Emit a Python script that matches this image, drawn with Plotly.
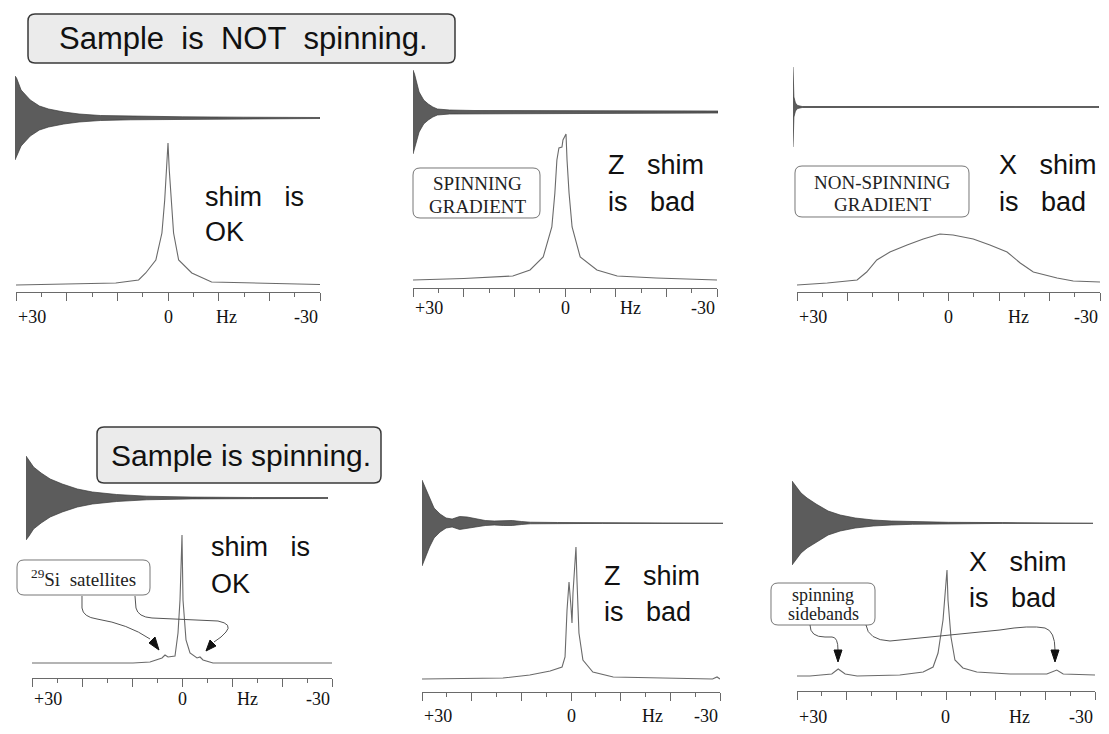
import plotly.graph_objects as go

W, H = 1109, 734

# ---------------- data ----------------
# FID envelopes: time in % of acquisition, envelope amplitude (arb. units)
FID_T_1 = [0, 0.5, 2, 5, 8, 11, 16, 21, 28, 38, 55, 75, 100]
FID_ENV_1 = [42, 40, 28, 18, 12, 9, 6, 4, 2.5, 1.8, 1.2, 0.8, 0.5]
FID_T_2 = [0, 0.5, 2, 3.5, 5, 6.5, 8, 12, 20, 40, 100]
FID_ENV_2 = [42, 38, 20, 12, 8, 5, 3, 2, 1.5, 1.2, 1.0]
FID_T_3 = [0, 0.3, 0.8, 1.5, 3, 100]
FID_ENV_3 = [40, 10, 4, 1.5, 0.5, 0.4]
FID_T_4 = [0, 1, 2.5, 5, 8, 12, 17, 22, 30, 40, 55, 75, 100]
FID_ENV_4 = [42, 38, 31, 25, 19, 14, 9, 6, 3.5, 1.8, 0.9, 0.5, 0.4]
FID_T_5 = [0, 1, 2.5, 4, 6, 8, 10, 12.5, 15, 18, 21, 24, 27, 30, 33, 36, 45, 60, 100]
FID_ENV_5 = [43, 36, 24, 15, 9, 5, 4, 6.5, 6, 4, 2.5, 2, 2.5, 2.5, 1.5, 0.8, 0.5, 0.4, 0.3]
FID_T_6 = [0, 1, 3, 5, 8, 12, 16, 21, 27, 33, 40, 52, 70, 100]
FID_ENV_6 = [42, 38, 30, 25, 19, 12, 8, 5, 3, 2, 1.3, 0.7, 0.4, 0.3]

# Spectra: frequency (Hz) and intensity (arb. units)
SPEC_HZ_1 = [30, 23.5, 10.3, 5.8, 4.4, 2.4, 1.2, 0.65, 0.25, 0, -0.25, -0.65, -1.1, -2.1, -4.7, -8.6, -16, -24, -30]
SPEC_I_1 = [0, 0.5, 2, 5, 12, 25, 52, 85, 115, 142, 115, 85, 52, 25, 12, 3, 2, 1, 0.5]
SPEC_HZ_2 = [30, 20, 10.3, 6.9, 4.3, 2.6, 2.0, 1.6, 1.2, 0.6, 0.4, -0.2, -0.4, -0.8, -1.4, -3.0, -6.3, -10.3, -18, -30]
SPEC_I_2 = [0, 1.5, 4, 10, 23, 53, 87, 120, 132, 133, 140, 146, 120, 87, 53, 23, 10, 4, 2, 0]
SPEC_HZ_3 = [30, 24, 18.1, 16.2, 14.2, 11.6, 8.2, 5.0, 1.7, -0.9, -4.9, -8.2, -11.6, -14.2, -16.8, -21.5, -24.7, -30]
SPEC_I_3 = [0, 2, 5, 13, 25, 33, 40, 46, 51, 50, 46, 40, 33, 22, 13, 7, 4, 3]
SPEC_HZ_4 = [30, 9.8, 6.4, 4.0, 3.4, 2.8, 1.4, 0.8, 0.4, 0, -0.2, -0.8, -1.6, -3.0, -3.6, -4.2, -6.2, -30]
SPEC_I_4 = [0, 0, 1, 5, 8, 6, 7, 30, 63, 128, 63, 23, 10, 5, 6, 3, 0, 0]
SPEC_HZ_5 = [30, 13.7, 8.3, 4.2, 1.8, 1.2, 0.8, 0.4, 0, -0.2, -0.4, -1.0, -1.2, -1.6, -2.4, -4.4, -8.5, -20, -28.5, -29.4, -30]
SPEC_I_5 = [0, 1, 4, 8, 12, 22, 69, 97, 72, 56, 86, 132, 99, 46, 19, 7, 2, 0.5, 0, 2, 0]
SPEC_HZ_6 = [30, 27.4, 23, 21.7, 20.3, 17.9, 9.3, 4.6, 2.6, 1.6, 0.6, 0.2, -0.2, -0.4, -1.0, -1.8, -3.4, -6.2, -12.9, -20.3, -22.3, -23.6, -29.6, -30]
SPEC_I_6 = [0, 0, 2, 7, 2, 0, 1, 4, 9, 23, 56, 86, 106, 76, 39, 16, 8, 4, 2, 2, 6, 2, 1, 1]

MAJOR_TICKS = [30, 20, 10, 0, -10, -20, -30]
MINOR_TICKS = [25, 15, 5, -5, -15, -25]
TICK_LABELS = ["+30", "0", "Hz", "-30"]
HZ_LABEL_POS = [-11.5, -13, -13.8, -13, -16.5, -14.8]

CAPTION_1 = ["shim is", "OK"]
CAPTION_2 = ["Z shim", "is bad"]
CAPTION_3 = ["X shim", "is bad"]

FIDS = [(FID_T_1, FID_ENV_1), (FID_T_2, FID_ENV_2), (FID_T_3, FID_ENV_3),
        (FID_T_4, FID_ENV_4), (FID_T_5, FID_ENV_5), (FID_T_6, FID_ENV_6)]
SPECS = [(SPEC_HZ_1, SPEC_I_1), (SPEC_HZ_2, SPEC_I_2), (SPEC_HZ_3, SPEC_I_3),
         (SPEC_HZ_4, SPEC_I_4), (SPEC_HZ_5, SPEC_I_5), (SPEC_HZ_6, SPEC_I_6)]

# ---------------- layout geometry (pixels) ----------------
PANELS = [
    dict(fx0=15, fx1=320, fb=118, ax0=16, ax1=320, ay=292, by=285, ldy=25),
    dict(fx0=413, fx1=718, fb=112, ax0=413, ax1=717, ay=288, by=280, ldy=20),
    dict(fx0=793, fx1=1099, fb=107, ax0=797, ax1=1100, ay=292, by=285, ldy=25),
    dict(fx0=26, fx1=328, fb=498, ax0=32, ax1=332, ay=678, by=663, ldy=21),
    dict(fx0=422, fx1=723, fb=523, ax0=422, ax1=720, ay=692, by=679, ldy=24),
    dict(fx0=792, fx1=1093, fb=523, ax0=797, ax1=1095, ay=691, by=676, ldy=26),
]

SANS = "Liberation Sans, Arial, sans-serif"
SERIF = "Liberation Serif, Times New Roman, serif"


def px(x):
    return x / W


def py(y):
    return 1 - y / H


fig = go.Figure()
layout = dict(width=W, height=H, margin=dict(l=0, r=0, t=0, b=0),
              paper_bgcolor="white", plot_bgcolor="rgba(0,0,0,0)",
              showlegend=False)
annotations = []
shapes = []

SPEC_H = 170
for i, (p, (hz, inten), (ft, fenv)) in enumerate(zip(PANELS, SPECS, FIDS)):
    k = i + 1
    sk = "" if k == 1 else str(k)
    fk = str(k + 6)
    # spectrum trace
    fig.add_trace(go.Scatter(x=hz, y=inten, mode="lines",
                             line=dict(color="#6a6a6a", width=1.1),
                             xaxis="x" + sk, yaxis="y" + sk, hoverinfo="skip"))
    off = p["ay"] - p["by"]
    layout["xaxis" + sk] = dict(
        domain=[px(p["ax0"]), px(p["ax1"])], range=[30, -30], anchor="y" + sk,
        showline=True, linecolor="#6a6a6a", linewidth=1, showgrid=False,
        zeroline=False, ticks="outside", tickvals=MAJOR_TICKS, ticklen=8,
        tickcolor="#6a6a6a", tickwidth=1, showticklabels=False,
        minor=dict(tickvals=MINOR_TICKS, ticks="outside", ticklen=4,
                   tickcolor="#6a6a6a", tickwidth=1))
    layout["yaxis" + sk] = dict(
        domain=[py(p["ay"]), py(p["ay"] - SPEC_H)], range=[-off, SPEC_H - off],
        visible=False, anchor="x" + sk)
    # FID trace (filled envelope)
    xs = list(ft) + list(ft[::-1])
    ys = list(fenv) + [-e for e in fenv[::-1]]
    fig.add_trace(go.Scatter(x=xs, y=ys, mode="lines", fill="toself",
                             fillcolor="#5c5c5c", line=dict(color="#3a3a3a", width=0.7),
                             xaxis="x" + fk, yaxis="y" + fk, hoverinfo="skip"))
    layout["xaxis" + fk] = dict(domain=[px(p["fx0"]), px(p["fx1"])], range=[0, 100],
                                visible=False, anchor="y" + fk)
    layout["yaxis" + fk] = dict(domain=[py(p["fb"] + 50), py(p["fb"] - 50)],
                                range=[-50, 50], visible=False, anchor="x" + fk)
    # tick labels
    ly = py(p["ay"] + p["ldy"])
    xr = "x" + sk
    for val, txt, anc in [(30, TICK_LABELS[0], "left"), (0, TICK_LABELS[1], "center"),
                          (HZ_LABEL_POS[i], TICK_LABELS[2], "center"),
                          (-30, TICK_LABELS[3], "right")]:
        annotations.append(dict(x=val, y=ly, xref=xr, yref="paper", text=txt,
                                showarrow=False, xanchor=anc, yanchor="middle",
                                font=dict(family=SERIF, size=18, color="#111")))


def pathstr(cmds, close=False):
    s = ""
    for c in cmds:
        cmd = c[0]
        coords = c[1:]
        s += cmd + " " + " ".join(
            f"{px(coords[j]):.5f},{py(coords[j + 1]):.5f}" for j in range(0, len(coords), 2)) + " "
    return s + ("Z" if close else "")


def rbox(x0, y0, x1, y1, r=6):
    return pathstr([("M", x0 + r, y0), ("L", x1 - r, y0), ("Q", x1, y0, x1, y0 + r),
                    ("L", x1, y1 - r), ("Q", x1, y1, x1 - r, y1), ("L", x0 + r, y1),
                    ("Q", x0, y1, x0, y1 - r), ("L", x0, y0 + r), ("Q", x0, y0, x0 + r, y0)],
                   close=True)


# title boxes
shapes.append(dict(type="path", path=rbox(28, 14, 455, 63, 7), xref="paper", yref="paper",
                   fillcolor="#ebebeb", line=dict(color="#3a3a3a", width=1.5), layer="below"))
shapes.append(dict(type="path", path=rbox(97, 427, 381, 483, 7), xref="paper", yref="paper",
                   fillcolor="#ebebeb", line=dict(color="#3a3a3a", width=1.5), layer="below"))
NB2 = "\u00a0\u00a0"
NB3 = "\u00a0\u00a0\u00a0"
annotations.append(dict(x=px(243), y=py(39), xref="paper", yref="paper",
                        text=NB2.join(["Sample", "is", "NOT", "spinning."]), showarrow=False,
                        xanchor="center", yanchor="middle",
                        font=dict(family=SANS, size=31, color="#111")))
annotations.append(dict(x=px(241), y=py(455), xref="paper", yref="paper",
                        text=" ".join(["Sample", "is", "spinning."]), showarrow=False,
                        xanchor="center", yanchor="middle",
                        font=dict(family=SANS, size=30, color="#111")))

# label boxes
for (x0, y0, x1, y1) in [(413, 168, 540, 218), (795, 166, 969, 217),
                         (17, 560, 150, 595), (771, 583, 875, 625)]:
    shapes.append(dict(type="path", path=rbox(x0, y0, x1, y1, 7), xref="paper", yref="paper",
                       fillcolor="white", line=dict(color="#777", width=1)))


def lab(x, y, t, size=19):
    annotations.append(dict(x=px(x), y=py(y), xref="paper", yref="paper", text=t,
                            showarrow=False, xanchor="center", yanchor="middle",
                            font=dict(family=SERIF, size=size, color="#222")))


lab(477, 184, "SPINNING", 19)
lab(477, 206, "GRADIENT", 19)
lab(882, 182, "NON-SPINNING", 19)
lab(882, 205, "GRADIENT", 19)
lab(83, 578, "<sup>29</sup>Si\u00a0\u00a0satellites", 19)
lab(823, 595, "spinning", 18)
lab(823, 614, "sidebands", 18)


# captions
def cap(x, y, t):
    annotations.append(dict(x=px(x), y=py(y), xref="paper", yref="paper",
                            text=t.replace(" ", NB3), showarrow=False,
                            xanchor="left", yanchor="middle",
                            font=dict(family=SANS, size=27, color="#111")))


cap(203, 197, CAPTION_1[0]); cap(203, 232, CAPTION_1[1])
cap(606, 165, CAPTION_2[0]); cap(606, 202, CAPTION_2[1])
cap(997, 165, CAPTION_3[0]); cap(997, 202, CAPTION_3[1])
cap(209, 547, CAPTION_1[0]); cap(209, 584, CAPTION_1[1])
cap(602, 576, CAPTION_2[0]); cap(602, 612, CAPTION_2[1])
cap(967, 562, CAPTION_3[0]); cap(967, 598, CAPTION_3[1])

# connector curves
for cmds in [
    [("M", 82, 596), ("L", 82, 608), ("Q", 83, 617, 97, 619), ("Q", 128, 624, 150, 639)],
    [("M", 135, 596), ("L", 136, 608), ("Q", 138, 617, 152, 618), ("L", 218, 621),
     ("Q", 233, 624, 226, 632), ("Q", 222, 637, 214, 642)],
    [("M", 810, 625), ("Q", 810, 637, 825, 637), ("L", 832, 637), ("Q", 838, 637, 838, 650)],
    [("M", 866, 625), ("Q", 868, 640, 890, 641), ("L", 1000, 630), ("Q", 1030, 625, 1045, 628),
     ("Q", 1055, 631, 1055, 650)],
]:
    shapes.append(dict(type="path", path=pathstr(cmds), xref="paper", yref="paper",
                       line=dict(color="#555", width=1)))

# arrowheads (small filled triangles)
for (tip, b1, b2) in [((159, 650), (149, 643), (155, 637)),
                      ((206, 651), (210, 640), (216, 646)),
                      ((838, 662), (834, 650), (842, 650)),
                      ((1055, 662), (1051, 650), (1059, 650))]:
    shapes.append(dict(type="path", path=pathstr([("M",) + tip, ("L",) + b1, ("L",) + b2], close=True),
                       xref="paper", yref="paper", fillcolor="#111",
                       line=dict(color="#111", width=1)))

layout["annotations"] = annotations
layout["shapes"] = shapes
fig.update_layout(**layout)
fig.write_html("out.html", config={"displayModeBar": False},
               post_script="document.body.style.margin='0px';document.body.style.overflow='hidden';")
